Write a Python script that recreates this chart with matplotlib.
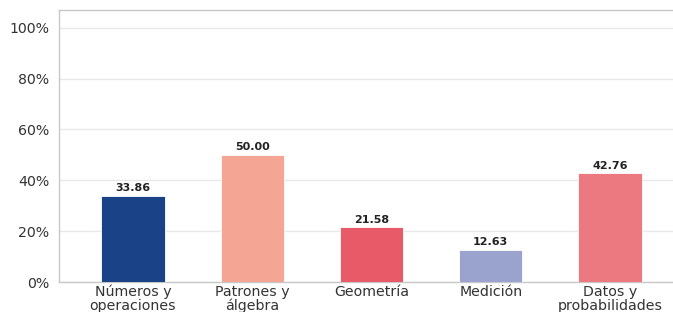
import matplotlib
matplotlib.use("Agg")
import matplotlib.pyplot as plt
from matplotlib.ticker import FuncFormatter

categories = ["Números y\noperaciones", "Patrones y\nálgebra", "Geometría", "Medición", "Datos y\nprobabilidades"]
values = [33.86, 50.00, 21.58, 12.63, 42.76]
colors = ["#1a4286", "#f4a593", "#e85a67", "#99a3cd", "#ec7880"]
yticks = [0, 20, 40, 60, 80, 100]

fig = plt.figure(figsize=(6.73, 3.12), dpi=100)
ax = fig.add_axes([59 / 673, (312 - 282) / 312, 625 / 673, 272 / 312])

x = list(range(len(categories)))
bars = ax.bar(x, values, width=0.53, color=colors, edgecolor="white", linewidth=0.6, zorder=3)
for b, v in zip(bars, values):
    ax.text(b.get_x() + b.get_width() / 2, v + 1, f"{v:.2f}", ha="center", va="bottom",
            fontsize=8, fontweight="semibold", color="#222222")

ax.set_xlim(-0.62, 4.62)
ax.set_ylim(0, 107)
ax.set_yticks(yticks)
ax.yaxis.set_major_formatter(FuncFormatter(lambda v, p: f"{v:.0f}%"))
ax.set_xticks(x)
ax.set_xticklabels(categories, linespacing=1.0)
ax.tick_params(axis="both", length=0, labelsize=10.2, colors="#333333")
ax.tick_params(axis="x", pad=2)
ax.tick_params(axis="y", pad=7)
ax.grid(axis="y", color="#e8e8e8", linewidth=1, zorder=0)

for s in ["left", "bottom", "top"]:
    ax.spines[s].set_color("#c8c8c8")
    ax.spines[s].set_linewidth(1)
ax.spines["right"].set_visible(False)

fig.savefig("out.png", dpi=100)
